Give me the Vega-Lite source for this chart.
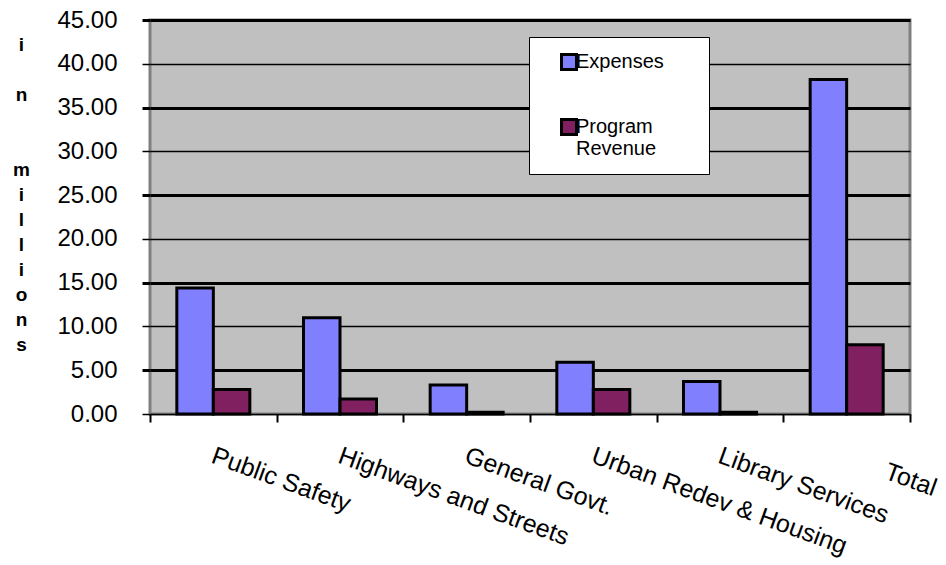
{
  "$schema": "https://vega.github.io/schema/vega-lite/v6.json",
  "width": 760,
  "height": 394,
  "autosize": {"type": "none"},
  "padding": {"left": 150, "top": 20, "right": 36, "bottom": 151},
  "background": "white",
  "config": {
    "font": "Liberation Sans",
    "view": {"fill": "#c0c0c0", "stroke": "#808080", "strokeWidth": 3}
  },
  "data": {
    "values": [
      {"category": "Public Safety", "series": "Expenses", "value": 14.4},
      {"category": "Public Safety", "series": "Program Revenue", "value": 2.8},
      {"category": "Highways and Streets", "series": "Expenses", "value": 11.0},
      {"category": "Highways and Streets", "series": "Program Revenue", "value": 1.7},
      {"category": "General Govt.", "series": "Expenses", "value": 3.3},
      {"category": "General Govt.", "series": "Program Revenue", "value": 0.2},
      {"category": "Urban Redev & Housing", "series": "Expenses", "value": 5.9},
      {"category": "Urban Redev & Housing", "series": "Program Revenue", "value": 2.8},
      {"category": "Library Services", "series": "Expenses", "value": 3.7},
      {"category": "Library Services", "series": "Program Revenue", "value": 0.2},
      {"category": "Total", "series": "Expenses", "value": 38.2},
      {"category": "Total", "series": "Program Revenue", "value": 7.9}
    ]
  },
  "mark": {"type": "bar", "stroke": "black", "strokeWidth": 3},
  "encoding": {
    "x": {
      "field": "category",
      "type": "nominal",
      "sort": ["Public Safety", "Highways and Streets", "General Govt.", "Urban Redev & Housing", "Library Services", "Total"],
      "scale": {"paddingInner": 0, "paddingOuter": 0},
      "axis": {
        "title": null,
        "domain": false,
        "grid": false,
        "labelAngle": 20,
        "labelAlign": "left",
        "labelBaseline": "top",
        "labelFontSize": 25,
        "labelColor": "black",
        "labelPadding": {"condition": {"test": "datum.value == 'Total'", "value": 37}, "value": 21},
        "labelOffset": {"condition": {"test": "datum.value == 'Total'", "value": 43}, "value": 3},
        "labelLimit": 400,
        "labelOverlap": false,
        "tickBand": "extent",
        "tickSize": 8,
        "tickWidth": 2,
        "tickColor": "black"
      }
    },
    "xOffset": {
      "field": "series",
      "sort": ["Expenses", "Program Revenue"],
      "scale": {"paddingInner": 0, "paddingOuter": 0.735}
    },
    "y": {
      "field": "value",
      "type": "quantitative",
      "scale": {"domain": [0, 45], "nice": false},
      "axis": {
        "values": [0, 5, 10, 15, 20, 25, 30, 35, 40, 45],
        "format": ".2f",
        "domain": false,
        "labelFontSize": 24,
        "labelColor": "black",
        "labelPadding": 25,
        "tickSize": 8,
        "tickColor": "black",
        "tickWidth": {"condition": {"test": "datum.value % 10 == 5", "value": 3}, "value": 1.5},
        "gridColor": "black",
        "gridOpacity": 1,
        "gridWidth": {"condition": {"test": "datum.value % 10 == 5", "value": 3}, "value": 1.5},
        "title": ["i", "\u200b", "n", "\u200b", "\u200b", "m", "i", "l", "l", "i", "o", "n", "s"],
        "titleAngle": 0,
        "titleAlign": "center",
        "titleBaseline": "alphabetic",
        "titleX": -129,
        "titleY": 30,
        "titleFontSize": 19,
        "titleFontWeight": "bold",
        "titleColor": "black",
        "titleLineHeight": 25
      }
    },
    "color": {
      "field": "series",
      "type": "nominal",
      "scale": {"domain": ["Expenses", "Program Revenue"], "range": ["#8080ff", "#802060"]},
      "legend": {
        "title": null,
        "orient": "none",
        "legendX": 379,
        "legendY": 17,
        "fillColor": "white",
        "strokeColor": "black",
        "padding": 15,
        "symbolOffset": 15,
        "symbolType": "square",
        "symbolSize": 225,
        "symbolStrokeColor": "black",
        "symbolStrokeWidth": 3,
        "symbolOpacity": 1,
        "labelFontSize": 20,
        "labelColor": "black",
        "labelLimit": 300,
        "labelOffset": -3,
        "labelBaseline": "middle",
        "rowPadding": 37,
        "labelExpr": "datum.label == 'Program Revenue' ? ['Program', 'Revenue'] : 'Expenses\u2800\u2800'"
      }
    }
  }
}
